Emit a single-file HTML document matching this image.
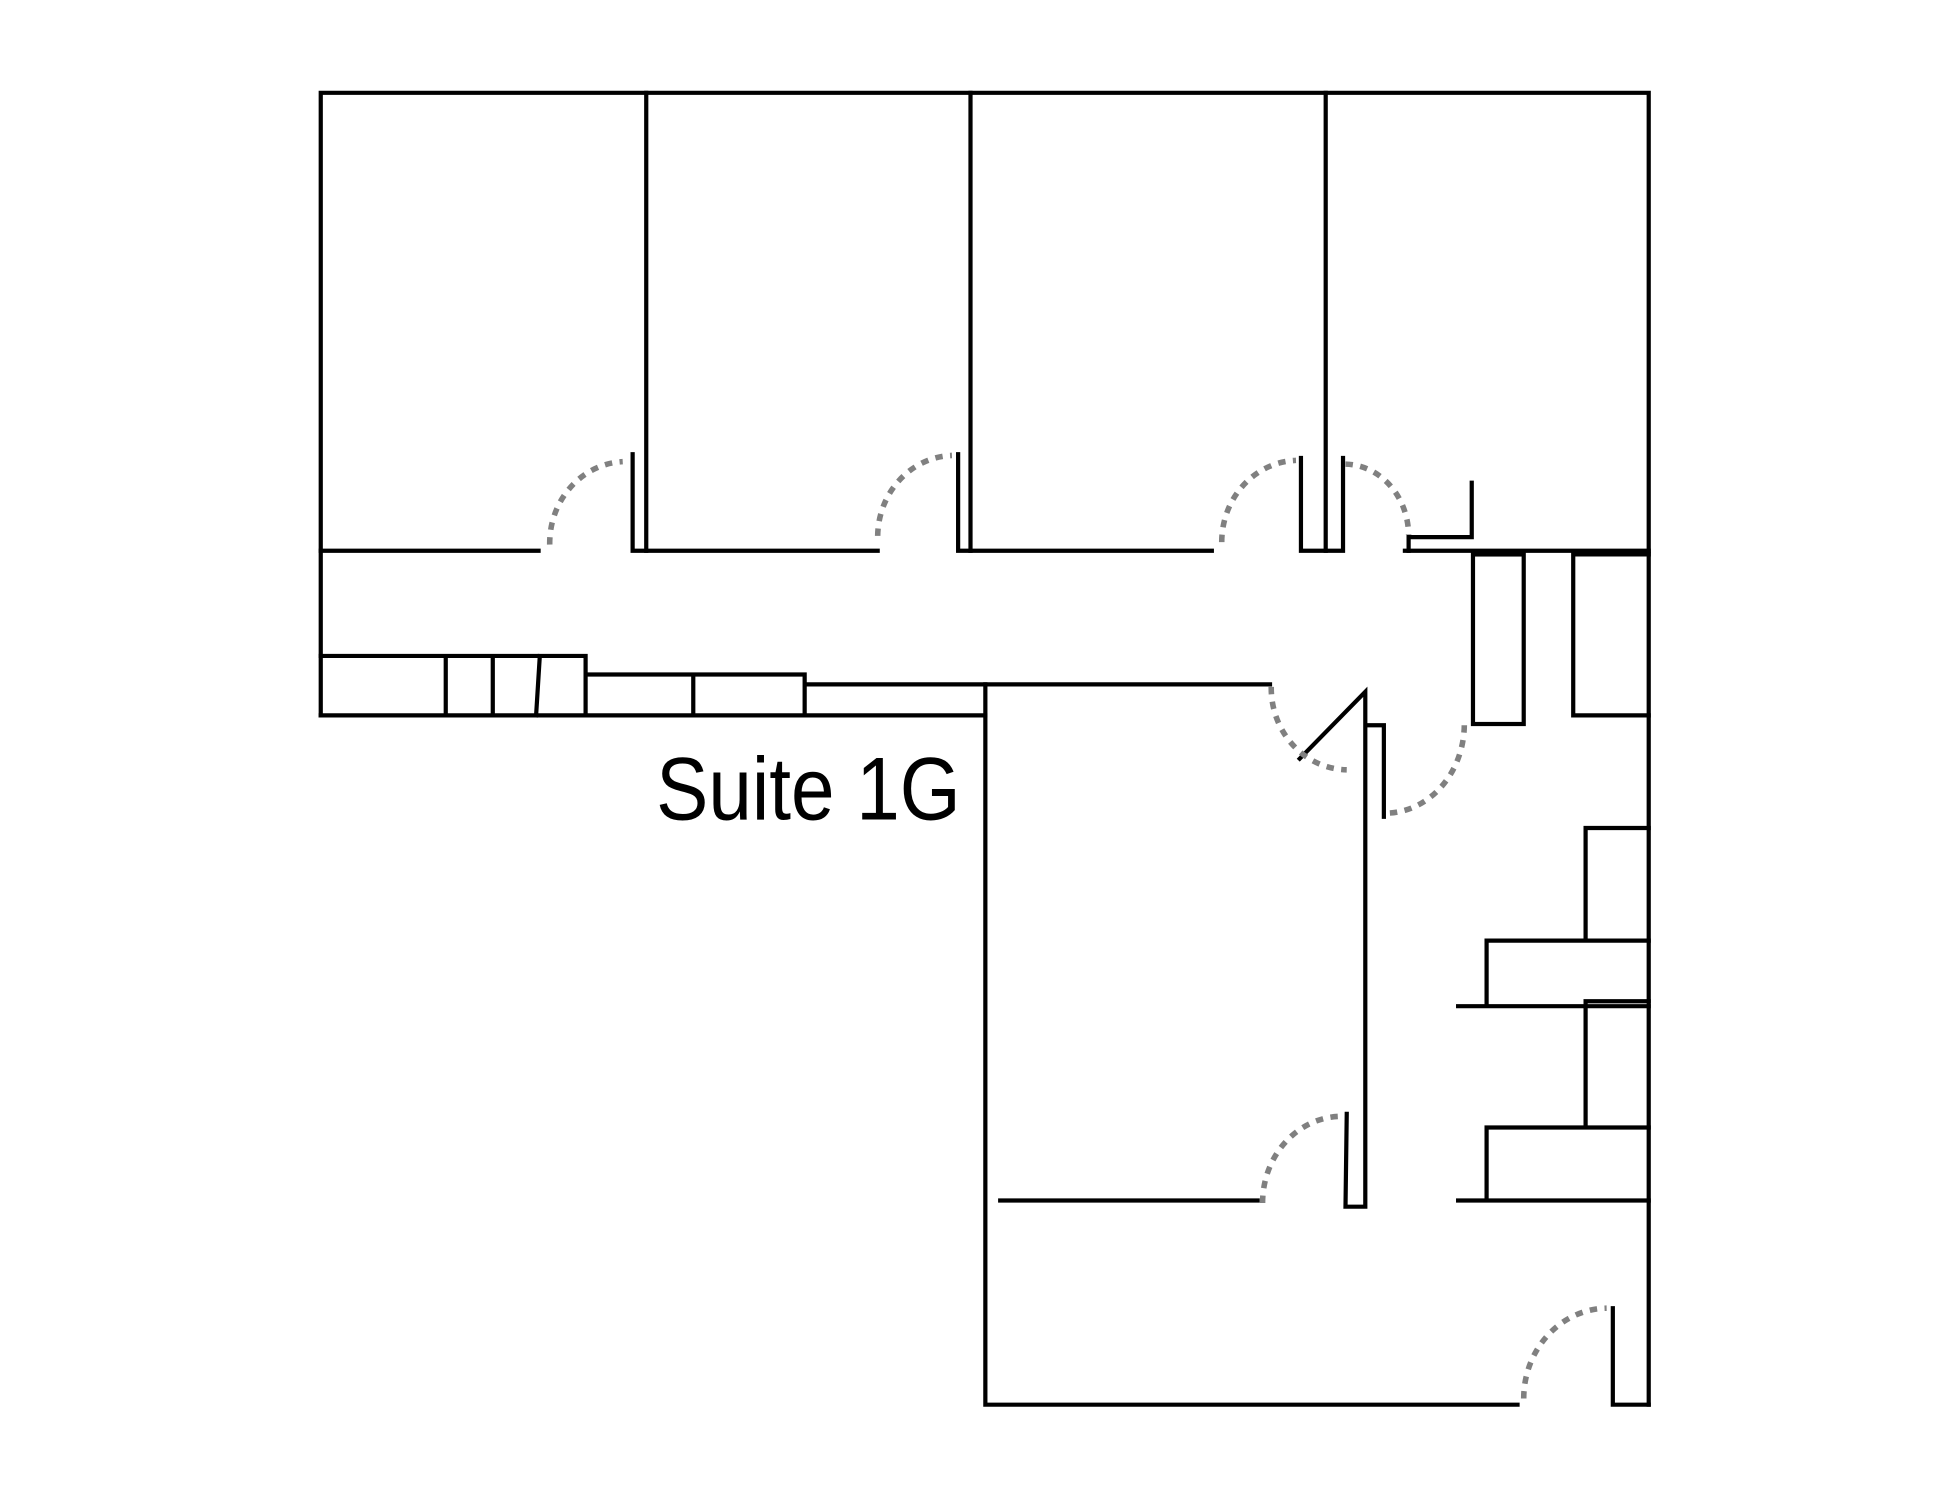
<!DOCTYPE html>
<html><head><style>html,body{margin:0;padding:0;background:#fff}svg{display:block}</style></head>
<body>
<svg width="1941" height="1500" viewBox="0 0 1568 1212" xmlns="http://www.w3.org/2000/svg">
<g fill="none" stroke="#000" stroke-width="3.4" stroke-linecap="square">
<path d="M259 578 V75 H1332 V1135"/>
<path d="M522 75 V445 M784 75 V445 M1071 75 V445"/>
<path d="M259 445 H435 M511 367 V445 H709 M774 367 V445 H979 M1051 370 V445 H1085 V370 M1135 445 H1332"/>
<path d="M1138 445 V434 H1189 V390"/>
<path d="M259 578 H796 M259 530 H473 V578 M360 530 V578 M398 530 V578 M436 530 L433 578 M473 545 H650 V578 M560 545 V578 M650 553 H1026"/>
<path d="M796 553 V1135 H1226 M1303 1057 V1135 H1332"/>
<rect x="1190" y="448" width="41" height="137"/>
<path d="M1332 448 H1271 V578 H1332"/>
<path d="M1050 613 L1103 559 V975 H1087 L1088 900 M1103 586 H1118 V660"/>
<path d="M1332 669 H1281 V760 M1332 760 H1201 V813 M1178 813 H1332 M1332 809 H1281 V911 M1332 911 H1201 V970 M1178 970 H1332 M808 970 H1016"/>
</g>
<g fill="none" stroke="#808080" stroke-width="4.5" stroke-dasharray="6 6">
<path d="M444 440 A62 66 0 0 1 503 373"/>
<path d="M709 433 A62 66 0 0 1 769 368"/>
<path d="M987 438 A62 66 0 0 1 1047 372"/>
<path d="M1087 375 A52 58 0 0 1 1138 432"/>
<path d="M1027 555 A62 66 0 0 0 1088 622"/>
<path d="M1183 586 A64 72 0 0 1 1120 657"/>
<path d="M1020 972 A64 70 0 0 1 1084 902"/>
<path d="M1231 1130 A68 73 0 0 1 1298 1057"/>
</g>
<text x="530" y="662" font-family="Liberation Sans, sans-serif" font-size="72" textLength="246" lengthAdjust="spacingAndGlyphs" fill="#000">Suite 1G</text>
</svg>
</body></html>
